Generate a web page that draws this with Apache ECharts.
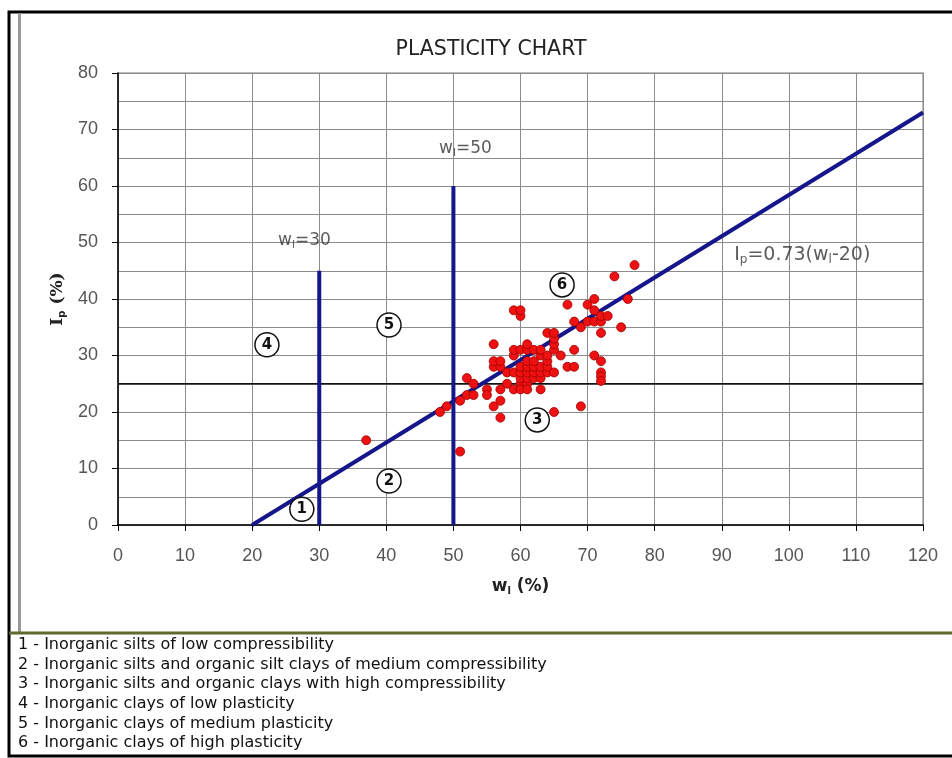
<!DOCTYPE html>
<html><head><meta charset="utf-8">
<script src="https://cdn.jsdelivr.net/npm/echarts@6/dist/echarts.min.js"></script>
<style>html,body{margin:0;padding:0;background:#fff}#c{width:952px;height:758px}</style>
</head><body><div id="c"></div>
<script>
const xTicks = [0, 120, 10];
const yTicks = [0, 80, 10];
const samplePoints = [
 [37,15],[48,20],[49,21],[51,13],[51,22],[52,23],[52,26],[53,25],[53,23],[55,24],[55,23],
 [56,21],[57,19],[57,22],[57,24],[58,25],[59,24],[60,25],[61,25],[60,24],[61,24],[63,24],
 [60,26],[61,26],[62,26],[63,26],[58,27],[59,27],[60,27],[61,27],[62,27],[63,27],[64,27],[65,27],
 [56,28],[57,28],[60,28],[61,28],[62,28],[63,28],[64,28],[67,28],[68,28],
 [56,29],[57,29],[61,29],[62,29],[64,29],[72,29],
 [59,30],[63,30],[64,30],[66,30],[71,30],
 [59,31],[60,31],[61,31],[62,31],[63,31],[65,31],[68,31],
 [56,32],[61,32],[65,32],[65,33],[64,34],[65,34],[72,34],
 [69,35],[75,35],[68,36],[70,36],[71,36],[72,36],[72,37],[73,37],[60,37],
 [59,38],[60,38],[71,38],[67,39],[70,39],[71,40],[76,40],[74,44],[77,46],
 [72,27],[72,26.3],[72,25.5],[65,20],[69,21]
];
const aLine = [[20,0],[120,73]];
const line30 = [[30,0],[30,45]];
const line50 = [[50,0],[50,60]];
const line25 = [[0,25],[120,25]];
const zoneLabels = [['1',27.4,2.8],['2',40.4,7.8],['3',62.5,18.6],['4',22.2,31.9],['5',40.4,35.4],['6',66.2,42.5]];
const textLabels = [
 {pos:[51.8,66.6], text:'{a|w}{s|l}{a|=50}'},
 {pos:[27.8,50.4], text:'{a|w}{s|l}{a|=30}'},
 {pos:[102.0,47.8], text:'{b|I}{t|p}{b|=0.73(w}{t|l}{b|-20)}'}
];
const legendLines = [
 '1 - Inorganic silts of low compressibility',
 '2 - Inorganic silts and organic silt clays of medium compressibility',
 '3 - Inorganic silts and organic clays with high compressibility',
 '4 - Inorganic clays of low plasticity',
 '5 - Inorganic clays of medium plasticity',
 '6 - Inorganic clays of high plasticity'
];
const titleText = 'PLASTICITY CHART';

const chart = echarts.init(document.getElementById('c'));
const blue = '#16168c';
const sub = {fontSize:11, fontFamily:'DejaVu Sans', color:'#333', padding:[9,0,0,0]};
const main = {fontSize:17, fontFamily:'DejaVu Sans', color:'#333'};
const big = {fontSize:19, fontFamily:'DejaVu Sans', color:'#333'};
const bigSub = {fontSize:12, fontFamily:'DejaVu Sans', color:'#333', padding:[10,0,0,0]};
const graphics = [
 {type:'rect', shape:{x:9,y:12,width:960,height:744}, style:{fill:null, stroke:'#000', lineWidth:3}, z:100},
 {type:'line', shape:{x1:19.5,y1:13,x2:19.5,y2:632}, style:{stroke:'#9a9a9a', lineWidth:3}, z:100},
 {type:'line', shape:{x1:9,y1:633,x2:952,y2:633}, style:{stroke:'#5d6b2e', lineWidth:3}, z:100}
];
legendLines.forEach((t,i)=>{
  graphics.push({type:'text', left:18, top:637+i*19.6, style:{text:t, fontSize:16, fontFamily:'DejaVu Sans', fill:'#111'}});
});
chart.setOption({
  animation:false,
  backgroundColor:'#fff',
  title:{text:titleText, left:486, top:34, textAlign:'center', textStyle:{fontSize:20.5, fontWeight:'normal', fontFamily:'DejaVu Sans', color:'#222'}},
  grid:{left:118, right:29, top:73, bottom:233, show:true, borderColor:'#bbb', borderWidth:2},
  xAxis:{type:'value', min:xTicks[0], max:xTicks[1], interval:xTicks[2],
    name:'{b|w}{bs|l}{b| (%)}', nameLocation:'middle', nameGap:52,
    nameTextStyle:{rich:{b:{fontSize:17,fontWeight:'bold',fontFamily:'DejaVu Sans',color:'#222'}, bs:{fontSize:10,fontWeight:'bold',fontFamily:'DejaVu Sans',color:'#222',padding:[9,0,0,0]}}},
    axisLine:{lineStyle:{color:'#000', width:1.5}},
    axisTick:{show:true, length:6, lineStyle:{color:'#000'}},
    axisLabel:{fontSize:18, color:'#555', fontFamily:'Liberation Sans, Arial', margin:22},
    splitLine:{show:true, lineStyle:{color:'#8c8c8c', width:1}}
  },
  yAxis:{type:'value', min:yTicks[0], max:yTicks[1], interval:yTicks[2],
    name:'{b|I}{bs|p}{b| (%)}', nameLocation:'middle', nameGap:46, nameRotate:90,
    nameTextStyle:{rich:{b:{fontSize:17,fontWeight:'bold',fontFamily:'DejaVu Serif',color:'#222'}, bs:{fontSize:10,fontWeight:'bold',fontFamily:'DejaVu Sans',color:'#222',padding:[9,0,0,0]}}},
    axisLine:{show:true, lineStyle:{color:'#000', width:1.5}},
    axisTick:{show:true, length:6, lineStyle:{color:'#000'}},
    axisLabel:{fontSize:18, color:'#555', fontFamily:'Liberation Sans, Arial', margin:20},
    splitLine:{show:true, lineStyle:{color:'#8c8c8c', width:1}},
    minorTick:{show:false, splitNumber:2},
    minorSplitLine:{show:true, lineStyle:{color:'#8c8c8c', width:1}}
  },
  graphic:graphics,
  series:[
    {type:'line', data:line25, symbol:'none', lineStyle:{color:'#111', width:1.5}, z:3},
    {type:'line', data:aLine, symbol:'none', lineStyle:{color:blue, width:4}, z:4},
    {type:'line', data:line30, symbol:'none', lineStyle:{color:blue, width:4}, z:4},
    {type:'line', data:line50, symbol:'none', lineStyle:{color:blue, width:4}, z:4},
    {type:'scatter', data:samplePoints, symbolSize:9, itemStyle:{color:'#ee1111', borderColor:'#a00000', borderWidth:0.8, opacity:1}, z:5},
    {type:'scatter', data:zoneLabels.map(d=>({value:[d[1],d[2]], label:{formatter:d[0]}})), symbolSize:24,
      itemStyle:{color:'#fff', borderColor:'#111', borderWidth:1.5, opacity:1}, z:6,
      label:{show:true, position:'inside', fontSize:15, fontWeight:'bold', fontFamily:'DejaVu Sans', color:'#111'}},
    {type:'scatter', data:textLabels.map(d=>({value:d.pos, label:{formatter:d.text}})), symbolSize:1,
      itemStyle:{color:'rgba(0,0,0,0)'}, z:7,
      label:{show:true, position:'inside', rich:{a:main, s:sub, b:big, t:bigSub}}}
  ]
});
</script></body></html>
